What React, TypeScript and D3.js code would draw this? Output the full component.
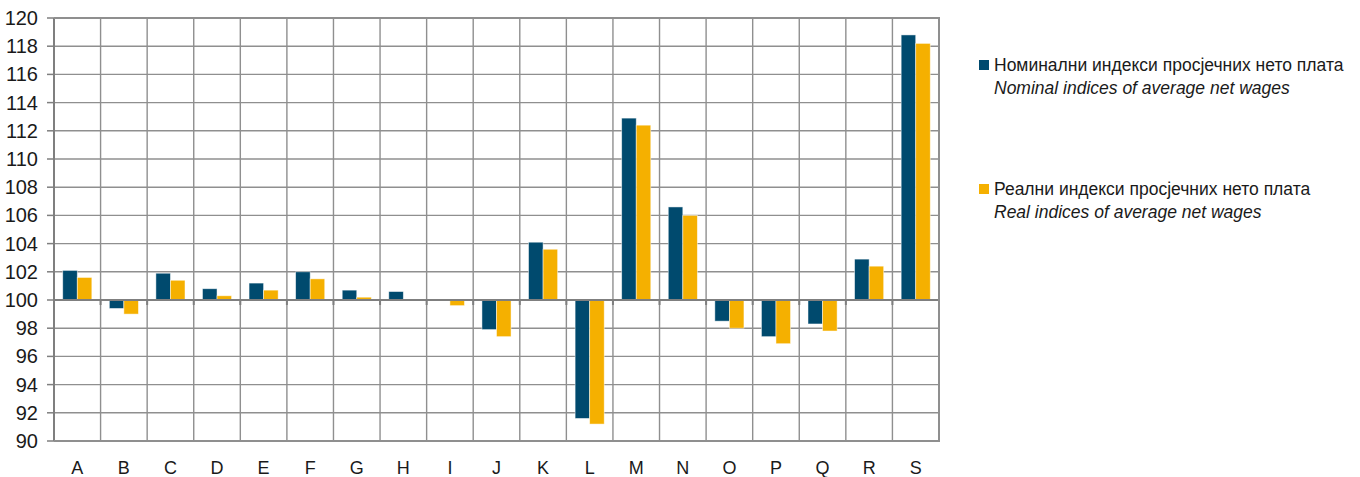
import React, { useEffect, useRef } from "react";
import * as d3 from "d3";

// Sections of activity
const categories = ["A", "B", "C", "D", "E", "F", "G", "H", "I", "J", "K", "L", "M", "N", "O", "P", "Q", "R", "S"];

// Nominal indices of average net wages
const nominal = [102.1, 99.4, 101.9, 100.8, 101.2, 102.0, 100.7, 100.6, 100.05, 97.9, 104.1, 91.6, 112.9, 106.6, 98.5, 97.4, 98.3, 102.9, 118.8];

// Real indices of average net wages
const real = [101.6, 99.0, 101.4, 100.3, 100.7, 101.5, 100.2, 100.05, 99.6, 97.4, 103.6, 91.2, 112.4, 106.0, 98.0, 96.9, 97.8, 102.4, 118.2];

const yTicks = [90, 92, 94, 96, 98, 100, 102, 104, 106, 108, 110, 112, 114, 116, 118, 120];

const seriesNames = [
  ["Номинални индекси просјечних нето плата", "Nominal indices of average net wages"],
  ["Реални индекси просјечних нето плата", "Real indices of average net wages"],
];
const colors = ["#004a6e", "#f5b000"];

const W = 1360;
const H = 477;
const FONT = "'Liberation Sans', Arial, sans-serif";

const App = () => {
  const svgRef = useRef<SVGSVGElement>(null);

  useEffect(() => {
    const root = d3.select(svgRef.current);
    root.selectAll("*").remove();

    const left = 54, right = 939, top = 18, bottom = 441;

    const x = d3.scaleBand().domain(categories).range([left, right]);
    const inner = d3.scaleBand().domain(["n", "r"]).range([0, x.bandwidth()]).paddingOuter(0.6).paddingInner(0);
    const y = d3.scaleLinear().domain([90, 120]).range([bottom, top]);

    const g = root.append("g");

    // horizontal grid
    g.selectAll(".hg")
      .data(yTicks)
      .enter()
      .append("line")
      .attr("x1", left)
      .attr("x2", right)
      .attr("y1", (d) => y(d))
      .attr("y2", (d) => y(d))
      .attr("stroke", "#8f8f8f")
      .attr("stroke-width", 1.4);

    // vertical grid at category boundaries
    const bounds = categories.map((c) => x(c)!).concat([right]);
    g.selectAll(".vg")
      .data(bounds)
      .enter()
      .append("line")
      .attr("x1", (d) => d)
      .attr("x2", (d) => d)
      .attr("y1", top)
      .attr("y2", bottom)
      .attr("stroke", "#8f8f8f")
      .attr("stroke-width", 1.4);

    // bars
    const data = categories.flatMap((c, i) => [
      { c, k: "n", v: nominal[i], color: colors[0] },
      { c, k: "r", v: real[i], color: colors[1] },
    ]);
    g.selectAll(".bar")
      .data(data)
      .enter()
      .append("rect")
      .attr("x", (d) => x(d.c)! + inner(d.k)!)
      .attr("width", inner.bandwidth())
      .attr("y", (d) => Math.min(y(d.v), y(100)))
      .attr("height", (d) => Math.abs(y(d.v) - y(100)))
      .attr("fill", (d) => d.color)
      .attr("stroke", "#ffffff")
      .attr("stroke-opacity", 0.6)
      .attr("stroke-width", 0.8);

    // y axis
    g.append("line")
      .attr("x1", left)
      .attr("x2", left)
      .attr("y1", top)
      .attr("y2", bottom)
      .attr("stroke", "#7f7f7f")
      .attr("stroke-width", 2);
    g.selectAll(".yt")
      .data(yTicks)
      .enter()
      .append("line")
      .attr("x1", left - 7)
      .attr("x2", left)
      .attr("y1", (d) => y(d))
      .attr("y2", (d) => y(d))
      .attr("stroke", "#7f7f7f")
      .attr("stroke-width", 1.5);
    g.selectAll(".yl")
      .data(yTicks)
      .enter()
      .append("text")
      .attr("x", 38)
      .attr("y", (d) => y(d))
      .attr("dy", "0.35em")
      .attr("text-anchor", "end")
      .attr("font-family", FONT)
      .attr("font-size", 20)
      .attr("fill", "#1a1a1a")
      .text((d) => d);

    // category axis at 100
    g.append("line")
      .attr("x1", left)
      .attr("x2", right)
      .attr("y1", y(100))
      .attr("y2", y(100))
      .attr("stroke", "#7f7f7f")
      .attr("stroke-width", 2);
    g.selectAll(".xt")
      .data(bounds)
      .enter()
      .append("line")
      .attr("x1", (d) => d)
      .attr("x2", (d) => d)
      .attr("y1", y(100))
      .attr("y2", y(100) + 5)
      .attr("stroke", "#7f7f7f")
      .attr("stroke-width", 2);
    g.selectAll(".xl")
      .data(categories)
      .enter()
      .append("text")
      .attr("x", (d) => x(d)! + x.bandwidth() / 2)
      .attr("y", 474)
      .attr("text-anchor", "middle")
      .attr("font-family", FONT)
      .attr("font-size", 18)
      .attr("fill", "#1a1a1a")
      .text((d) => d);

    // border top/right
    g.append("path")
      .attr("d", `M${left},${top}H${right}V${bottom}H${left}`)
      .attr("fill", "none")
      .attr("stroke", "#8f8f8f")
      .attr("stroke-width", 2);

    // legend
    const legY = [65, 189];
    seriesNames.forEach((names, i) => {
      const lg = root.append("g").attr("transform", `translate(979,${legY[i]})`);
      lg.append("rect").attr("x", 0).attr("y", -5).attr("width", 10).attr("height", 10).attr("fill", colors[i]);
      lg.append("text")
        .attr("x", 15)
        .attr("y", 0)
        .attr("dy", "0.35em")
        .attr("font-family", FONT)
        .attr("font-size", 17.5)
        .attr("fill", "#1a1a1a")
        .text(names[0]);
      lg.append("text")
        .attr("x", 15)
        .attr("y", 23)
        .attr("dy", "0.35em")
        .attr("font-family", FONT)
        .attr("font-style", "italic")
        .attr("font-size", 17.5)
        .attr("fill", "#1a1a1a")
        .text(names[1]);
    });
  }, []);

  return <svg ref={svgRef} width={W} height={H} style={{ position: "absolute", left: 0, top: 0 }}></svg>;
};

export default App;
